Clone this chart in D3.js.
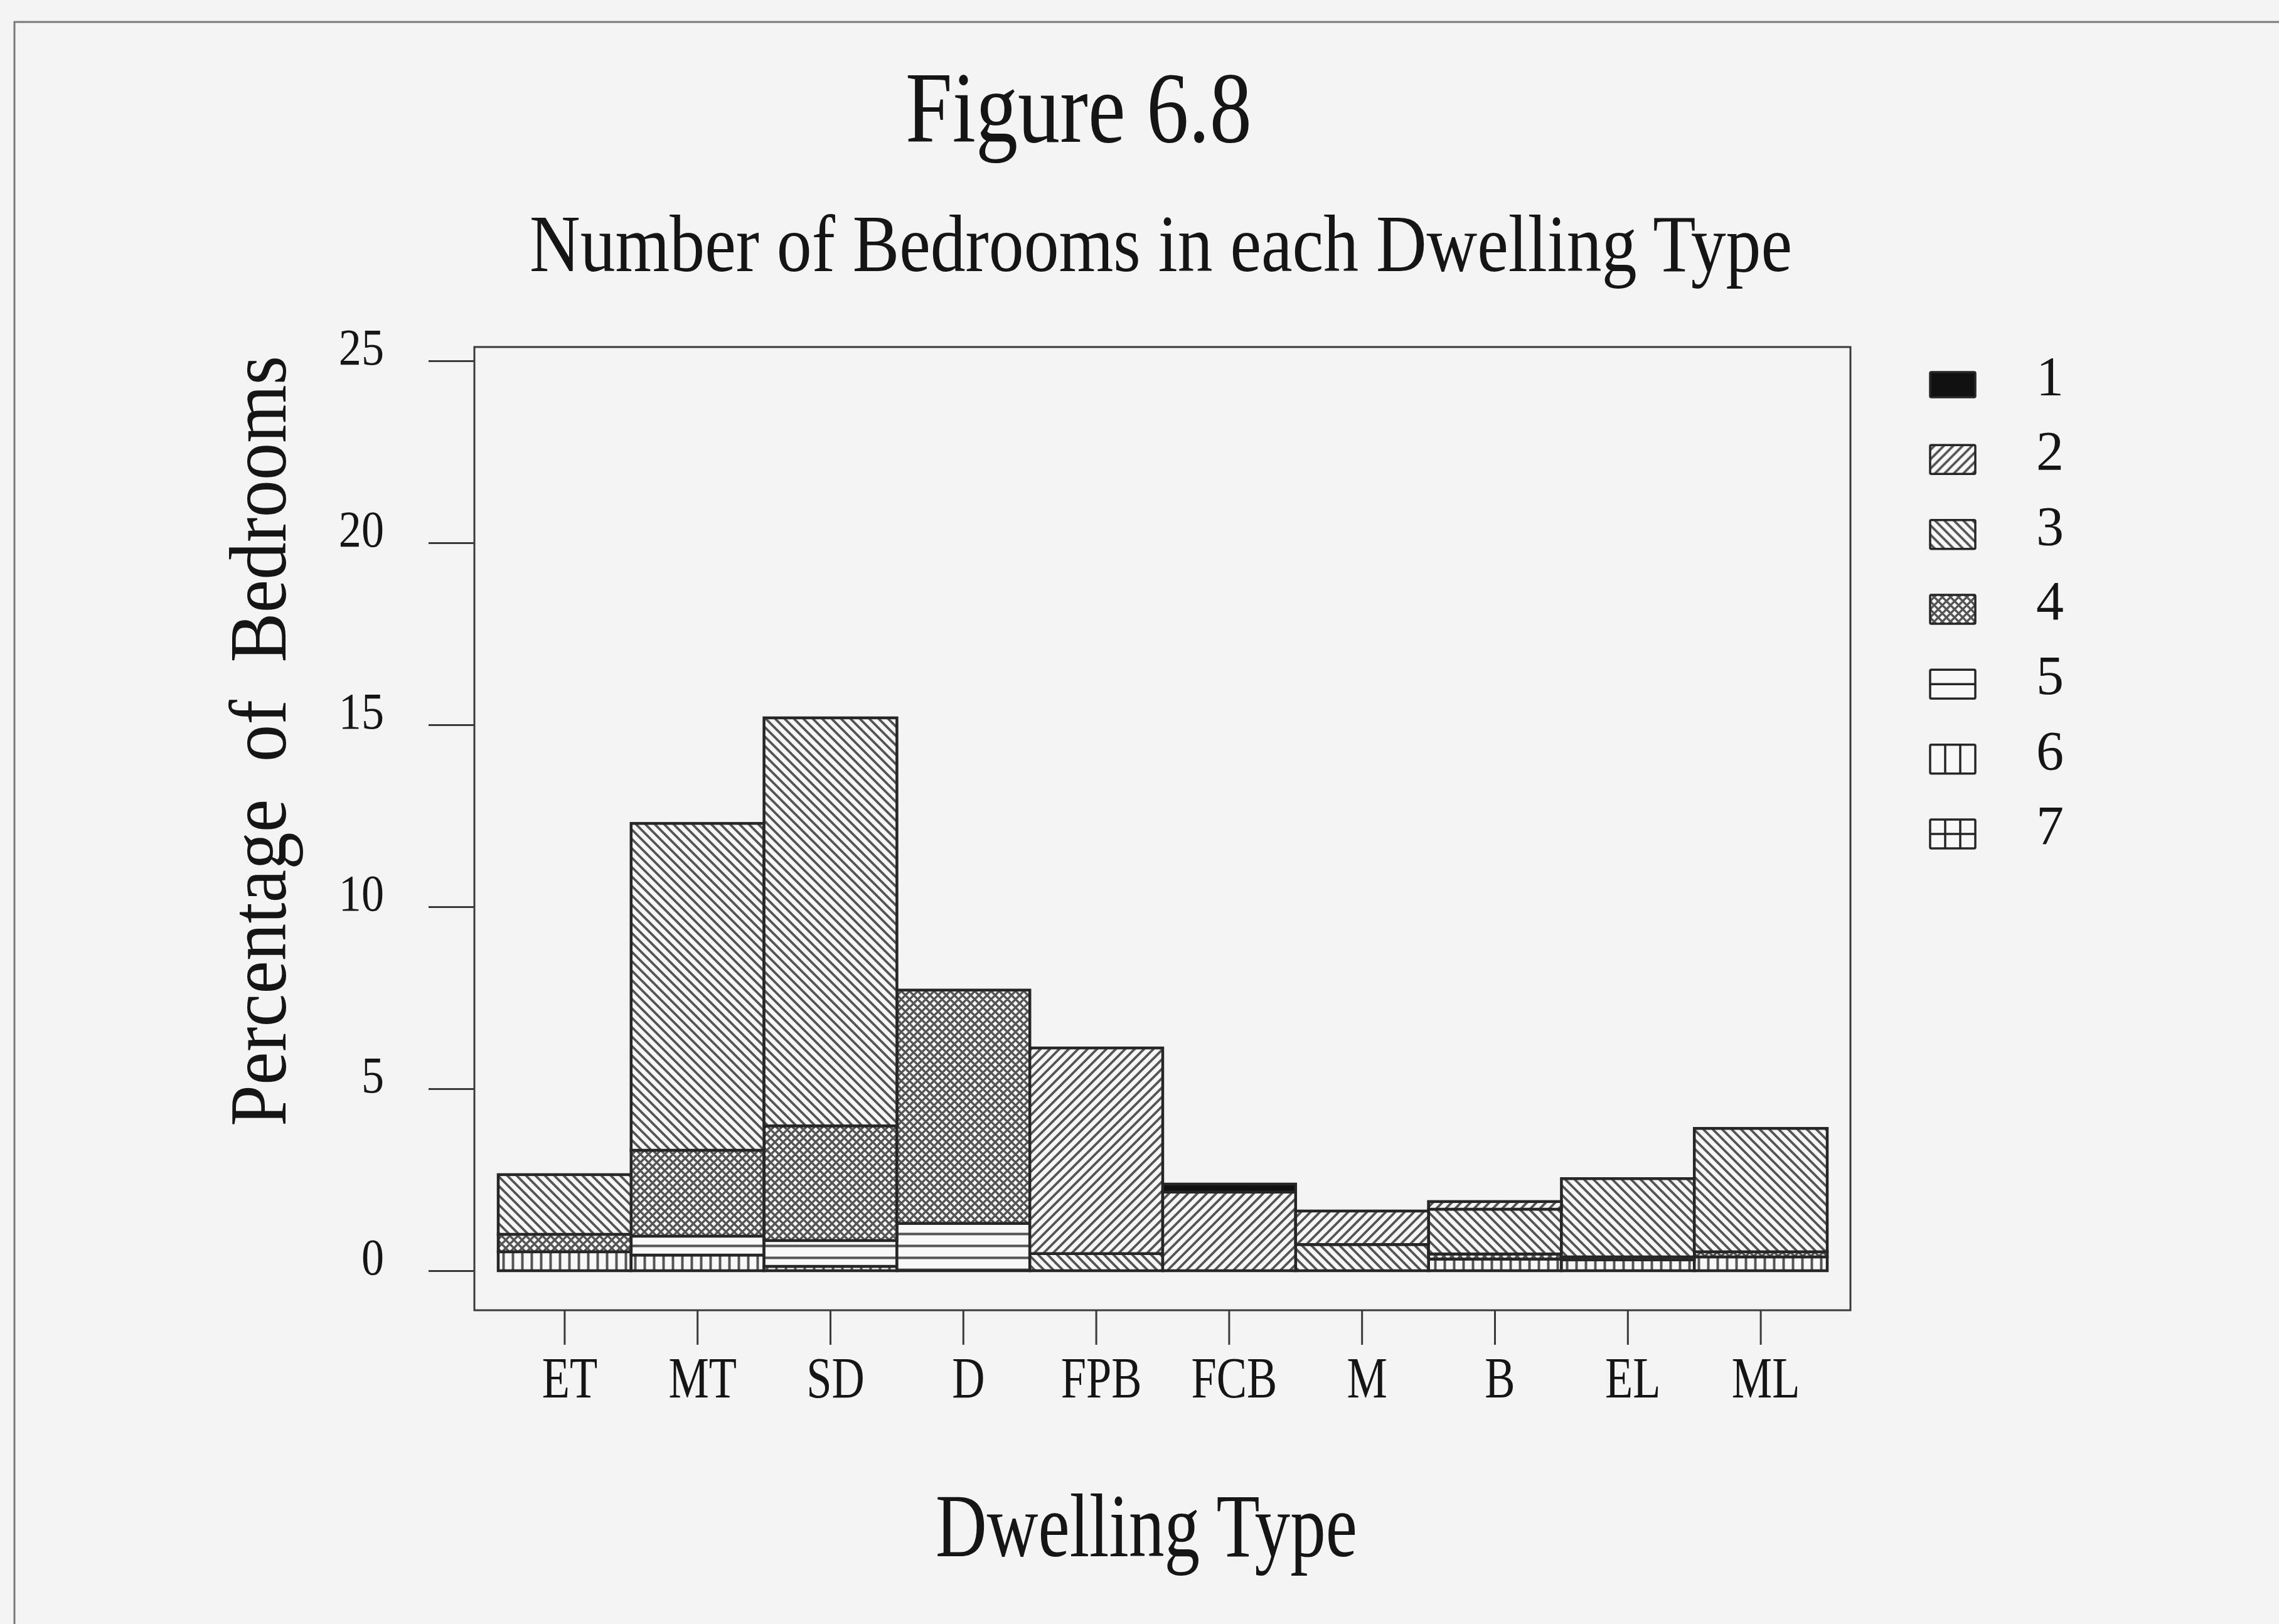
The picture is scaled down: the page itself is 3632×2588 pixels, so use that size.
<!DOCTYPE html>
<html><head><meta charset="utf-8">
<script src="https://cdn.jsdelivr.net/npm/d3@7"></script>
<style>
html,body{margin:0;padding:0;background:#f4f4f4;}
svg{display:block;}
text{font-family:"Liberation Serif","Times New Roman",serif;fill:#151515;}
</style>
</head><body>
<svg id="chart" width="3632" height="2588"></svg>
<script>
// ---------------- data ----------------
const categories = ["ET","MT","SD","D","FPB","FCB","M","B","EL","ML"];
const bedrooms   = ["1","2","3","4","5","6","7"];
const bed1 = [0,    0,    0,     0,    0,    0.22, 0,    0,    0,    0   ];
const bed2 = [0,    0,    0,     0,    5.65, 2.16, 0.92, 0.21, 0,    0   ];
const bed3 = [1.64, 8.98, 11.21, 0,    0.47, 0,    0.72, 1.23, 2.15, 3.39];
const bed4 = [0.48, 2.36, 3.15,  6.41, 0,    0,    0,    0.14, 0.08, 0.14];
const bed5 = [0,    0.52, 0.71,  1.30, 0,    0,    0,    0,    0,    0   ];
const bed6 = [0.52, 0.43, 0.12,  0,    0,    0,    0,    0.32, 0.30, 0.38];
const bed7 = [0,    0,    0,     0,    0,    0,    0,    0,    0,    0   ];
const yTicks = [0,5,10,15,20,25];
const titleText = "Figure 6.8";
const subtitleText = "Number of Bedrooms in each Dwelling Type";
const xTitleText = "Dwelling Type";
const yTitleText = "Percentage\u00A0\u00A0of\u00A0\u00A0Bedrooms";

const seriesValues = {"1":bed1,"2":bed2,"3":bed3,"4":bed4,"5":bed5,"6":bed6,"7":bed7};
const table = categories.map((c,i)=>{
  const row = {cat:c};
  bedrooms.forEach(k=>row[k]=seriesValues[k][i]);
  return row;
});

// ---------------- layout ----------------
const svg = d3.select("#chart");
const frame = {x0:756, x1:2949, y0:553, y1:2088};
const x = d3.scaleBand().domain(categories).range([794, 2912]).padding(0);
const y = d3.scaleLinear().domain([0,25]).range([2025, 575]);
const ink = "#262626";
const hatch = "#555555";

// outer border
svg.append("rect").attr("x",23).attr("y",35).attr("width",3700).attr("height",2700)
  .attr("fill","none").attr("stroke","#7a7a7a").attr("stroke-width",3);

// ---------------- patterns ----------------
const defs = svg.append("defs");
function pattern(id, w, h, d, sw){
  const p = defs.append("pattern").attr("id",id).attr("patternUnits","userSpaceOnUse")
    .attr("width",w).attr("height",h);
  p.append("rect").attr("width",w).attr("height",h).attr("fill","#f8f8f8");
  p.append("path").attr("d",d).attr("stroke",hatch).attr("stroke-width",sw).attr("fill","none");
}
pattern("p2",15,15,"M-4,4 L4,-4 M0,15 L15,0 M11,19 L19,11",3.8);
pattern("p3",15,15,"M-4,11 L4,19 M0,0 L15,15 M11,-4 L19,4",3.8);
pattern("p4",13,13,"M-4,4 L4,-4 M0,13 L13,0 M9,17 L17,9 M-4,9 L4,17 M0,0 L13,13 M9,-4 L17,4",3.4);
pattern("p5",10,19,"M0,9.5 L10,9.5",4);
pattern("p6",15,10,"M7.5,0 L7.5,10",4);
pattern("p7",15,19,"M7.5,0 L7.5,19 M0,9.5 L15,9.5",4);
const fillFor = k => k==="1" ? "#111" : `url(#p${k})`;

// ---------------- bars ----------------
const stackOrder = ["7","6","5","4","3","2","1"];
const stacked = d3.stack().keys(stackOrder)(table);
const gBars = svg.append("g");
stacked.forEach(layer=>{
  gBars.selectAll(null).data(layer.filter(d=>d[1]-d[0]>0)).enter().append("rect")
    .attr("x", d=>x(d.data.cat))
    .attr("width", x.bandwidth())
    .attr("y", d=>y(d[1]))
    .attr("height", d=>y(d[0])-y(d[1]))
    .attr("fill", fillFor(layer.key))
    .attr("stroke", ink).attr("stroke-width",4.5);
});

// plot frame
svg.append("rect").attr("x",frame.x0).attr("y",frame.y0)
  .attr("width",frame.x1-frame.x0).attr("height",frame.y1-frame.y0)
  .attr("fill","none").attr("stroke","#3a3a3a").attr("stroke-width",3);

// ---------------- axes ----------------
const yAxis = svg.append("g").attr("transform",`translate(${frame.x0},0)`)
  .call(d3.axisLeft(y).tickValues(yTicks).tickSize(73).tickFormat(d3.format("d")));
yAxis.select(".domain").remove();
yAxis.selectAll(".tick line").attr("stroke","#3a3a3a").attr("stroke-width",3);
yAxis.selectAll(".tick text")
  .attr("x",-144/0.88).attr("dy",0).attr("y",5)
  .attr("transform","scale(0.88,1)")
  .attr("font-size",82).attr("fill","#151515")
  .style("font-family",'"Liberation Serif",serif');

const xAxis = svg.append("g").attr("transform",`translate(0,${frame.y1})`)
  .call(d3.axisBottom(x).tickSize(55));
xAxis.select(".domain").remove();
xAxis.selectAll(".tick line").attr("stroke","#3a3a3a").attr("stroke-width",3);
xAxis.selectAll(".tick text")
  .attr("y",139).attr("dy",0).attr("x",8/0.77)
  .attr("transform","scale(0.77,1)")
  .attr("font-size",94).attr("fill","#151515")
  .style("font-family",'"Liberation Serif",serif');

// ---------------- titles ----------------
function condensed(txt, cx, by, size, len, rot){
  const t = svg.append("text").text(txt)
    .attr("text-anchor","middle").attr("font-size",size)
    .attr("textLength",len).attr("lengthAdjust","spacingAndGlyphs");
  if(rot){ t.attr("transform",`translate(${cx},${by}) rotate(-90)`); }
  else { t.attr("x",cx).attr("y",by); }
  return t;
}
condensed(titleText, 1719, 226, 162, 552);
condensed(subtitleText, 1850, 432, 130, 2012);
condensed(xTitleText, 1827, 2480, 145, 672);
condensed(yTitleText, 455, 1181, 130, 1228, true);

// ---------------- legend ----------------
const legendY = d3.scalePoint().domain(bedrooms).range([613, 1329]);
const lg = svg.append("g");
bedrooms.forEach(k=>{
  const cy = legendY(k);
  const g = lg.append("g").attr("transform",`translate(3076,${cy})`);
  const h = k==="1" ? 40 : 46, w = 72;
  let fill = "#f8f8f8";
  if(k==="1") fill="#111";
  else if(["2","3","4"].includes(k)) fill=`url(#p${k})`;
  g.append("rect").attr("x",0).attr("y",-h/2).attr("width",w).attr("height",h)
    .attr("fill",fill).attr("stroke",ink).attr("stroke-width",3.5).attr("rx",2);
  const lines = [];
  if(k==="5"||k==="7") lines.push([0,0,w,0]);
  if(k==="6"||k==="7") { lines.push([w/3,-h/2,w/3,h/2]); lines.push([2*w/3,-h/2,2*w/3,h/2]); }
  lines.forEach(l=>g.append("line").attr("x1",l[0]).attr("y1",l[1]).attr("x2",l[2]).attr("y2",l[3])
    .attr("stroke",ink).attr("stroke-width",3.5));
  lg.append("text").text(k).attr("x",3267).attr("y",cy+16)
    .attr("text-anchor","middle").attr("font-size",88);
});
</script>
</body></html>
